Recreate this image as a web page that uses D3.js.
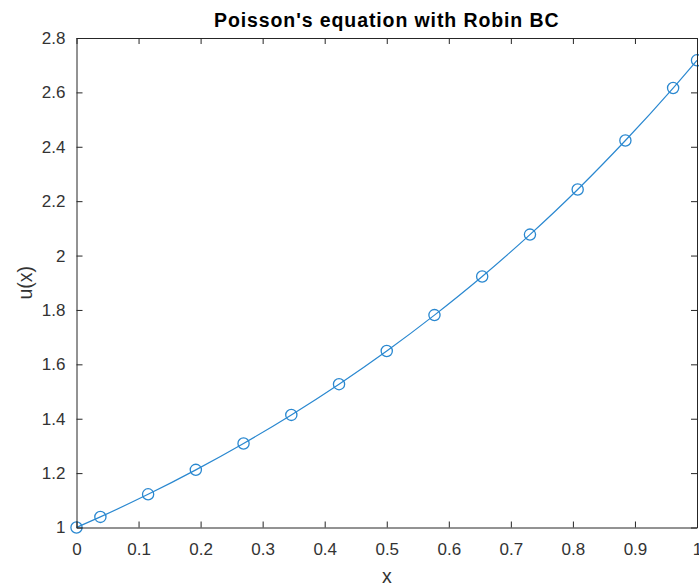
<!DOCTYPE html>
<html>
<head>
<meta charset="utf-8">
<script src="https://cdn.jsdelivr.net/npm/d3@7"></script>
<style>
  body { margin: 0; background: #fff; }
  svg { font-family: "Liberation Sans", Arial, sans-serif; }
</style>
</head>
<body>
<div id="chart"></div>
<script>
// values
var xs = [0, 0.0385, 0.1154, 0.1923, 0.2692, 0.3462, 0.4231, 0.5, 0.5769, 0.6538, 0.7308, 0.8077, 0.8846, 0.9615, 1];
var us = [1.0, 1.039, 1.122, 1.212, 1.309, 1.414, 1.527, 1.649, 1.781, 1.923, 2.077, 2.243, 2.423, 2.616, 2.718];
var xTicks = [0, 0.1, 0.2, 0.3, 0.4, 0.5, 0.6, 0.7, 0.8, 0.9, 1];
var yTicks = [1, 1.2, 1.4, 1.6, 1.8, 2, 2.2, 2.4, 2.6, 2.8];

var width = 699, height = 586;
var margin = {top: 38, right: 2, bottom: 58.5, left: 76.5};
var lineColor = "#2a88d0", axisColor = "#262626";

var svg = d3.select("#chart").append("svg")
    .attr("width", width)
    .attr("height", height);

var x = d3.scaleLinear().domain([0, 1]).range([margin.left, width - margin.right]);
var y = d3.scaleLinear().domain([1, 2.8]).range([height - margin.bottom, margin.top]);

var pts = xs.map(function (d, i) { return {x: d, u: us[i]}; });

// curve
svg.append("path")
    .datum(pts)
    .attr("fill", "none")
    .attr("stroke", lineColor)
    .attr("stroke-width", 1.2)
    .attr("d", d3.line()
        .x(function (d) { return x(d.x); })
        .y(function (d) { return y(d.u); })
        .curve(d3.curveMonotoneX));

// markers
svg.append("g").selectAll("circle")
    .data(pts)
    .enter().append("circle")
    .attr("cx", function (d) { return x(d.x); })
    .attr("cy", function (d) { return y(d.u); })
    .attr("r", 5.6)
    .attr("fill", "none")
    .attr("stroke", lineColor)
    .attr("stroke-width", 1.3);

// axes (box with ticks inside on all four sides)
function style(g) {
    g.select(".domain").attr("stroke", axisColor);
    g.selectAll(".tick line").attr("stroke", axisColor);
    g.selectAll(".tick text").attr("fill", "#333").style("font-size", "17px")
        .style("font-family", "Liberation Sans, Arial, sans-serif");
}

var fmt = function (d) { return d3.format("")(+d.toFixed(1)); };

svg.append("g")
    .attr("transform", "translate(0," + y.range()[0] + ")")
    .call(d3.axisBottom(x).tickValues(xTicks).tickSizeInner(-6).tickSizeOuter(0).tickPadding(15).tickFormat(fmt))
    .call(style);

svg.append("g")
    .attr("transform", "translate(0," + y.range()[1] + ")")
    .call(d3.axisTop(x).tickValues(xTicks).tickSizeInner(-6).tickSizeOuter(0).tickFormat(""))
    .call(style);

svg.append("g")
    .attr("transform", "translate(" + x.range()[0] + ",0)")
    .call(d3.axisLeft(y).tickValues(yTicks).tickSizeInner(-6).tickSizeOuter(0).tickPadding(11).tickFormat(fmt))
    .call(style);

svg.append("g")
    .attr("transform", "translate(" + x.range()[1] + ",0)")
    .call(d3.axisRight(y).tickValues(yTicks).tickSizeInner(-6).tickSizeOuter(0).tickFormat(""))
    .call(style);

// title and labels
svg.append("text")
    .attr("x", (x.range()[0] + x.range()[1]) / 2)
    .attr("y", 26.5)
    .attr("text-anchor", "middle")
    .attr("fill", "#000")
    .style("font-size", "19.5px")
    .style("font-weight", "bold")
    .style("letter-spacing", "0.9px")
    .text("Poisson's equation with Robin BC");

svg.append("text")
    .attr("x", (x.range()[0] + x.range()[1]) / 2)
    .attr("y", 583)
    .attr("text-anchor", "middle")
    .attr("fill", "#333")
    .style("font-size", "19.5px")
    .text("x");

svg.append("text")
    .attr("transform", "translate(32," + (y.range()[0] + y.range()[1]) / 2 + ") rotate(-90)")
    .attr("text-anchor", "middle")
    .attr("fill", "#333")
    .style("font-size", "19.5px")
    .text("u(x)");
</script>
</body>
</html>
